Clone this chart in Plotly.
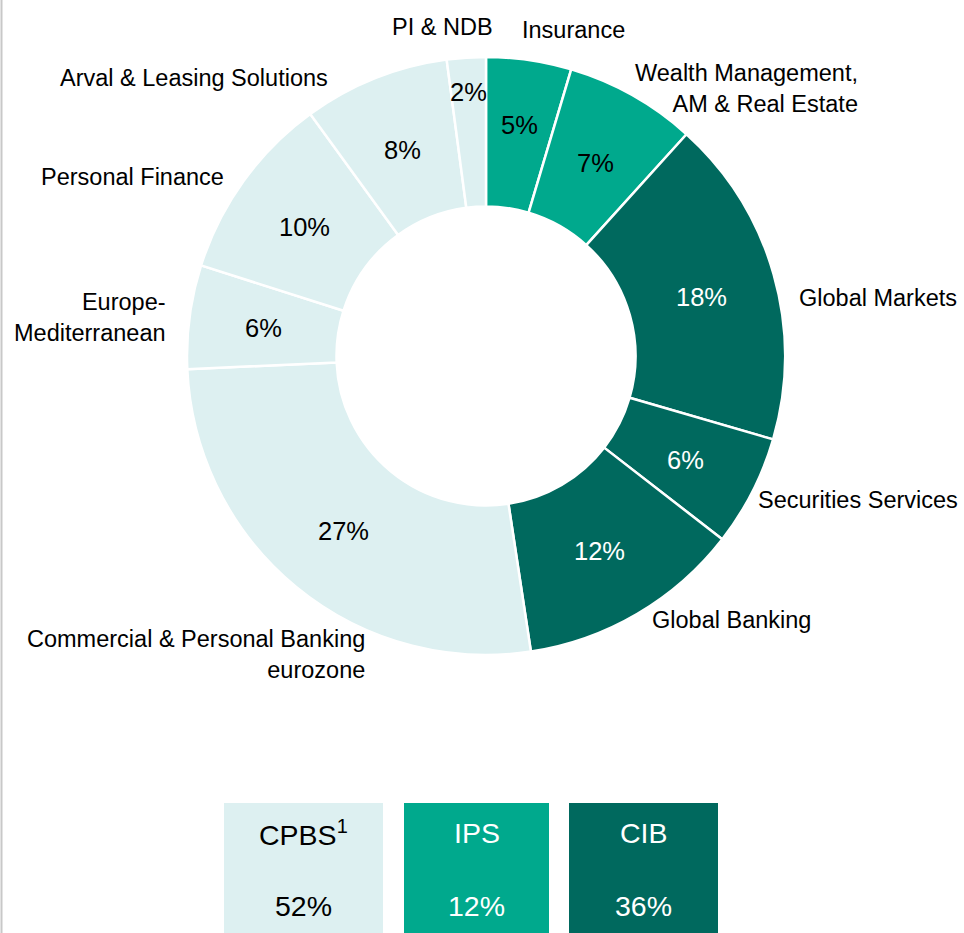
import math
import plotly.graph_objects as go

W, H = 964, 933

segments = ["Insurance", "Wealth Management,<br>AM & Real Estate", "Global Markets",
            "Securities Services", "Global Banking",
            "Commercial & Personal Banking<br>eurozone", "Europe-<br>Mediterranean",
            "Personal Finance", "Arval & Leasing Solutions", "PI & NDB"]
values = [4.6, 7.1, 17.8, 6.0, 12.1, 26.7, 5.6, 10.1, 7.9, 2.1]
groups = ["IPS", "IPS", "CIB", "CIB", "CIB", "CPBS", "CPBS", "CPBS", "CPBS", "CPBS"]

group_names = ["CPBS", "IPS", "CIB"]
group_titles = ["CPBS<sup>1</sup>", "IPS", "CIB"]
group_colors = {"CPBS": "#DDF0F1", "IPS": "#00A98D", "CIB": "#00695E"}
group_text = {"CPBS": "#000000", "IPS": "#000000", "CIB": "#FFFFFF"}
box_text = {"CPBS": "#000000", "IPS": "#FFFFFF", "CIB": "#FFFFFF"}

FONT = "Liberation Sans, Arial, sans-serif"


def px(x):
    return x / W


def py(y):
    return 1 - y / H


# donut geometry (pixels)
CX, CY, R_OUT, HOLE = 486, 356, 299, 0.5
R_TEXT = R_OUT * (1 + HOLE) / 2
text_radius_override = {"PI & NDB": 267, "Insurance": 235}

fig = go.Figure()
fig.add_trace(go.Pie(
    labels=segments,
    values=values,
    sort=False,
    direction="clockwise",
    rotation=0,
    hole=HOLE,
    marker=dict(colors=[group_colors[g] for g in groups],
                line=dict(color="#FFFFFF", width=2.5)),
    textinfo="none",
    domain=dict(x=[px(CX - R_OUT), px(CX + R_OUT)], y=[py(CY + R_OUT), py(CY - R_OUT)]),
    showlegend=False,
    hoverinfo="label+percent",
))

annotations = []

# percentage labels inside the ring
total_all = sum(values)
cum = 0.0
for name, v, g in zip(segments, values, groups):
    mid = (cum + v / 2) / total_all * 2 * math.pi
    cum += v
    r = text_radius_override.get(name, R_TEXT)
    x = CX + r * math.sin(mid)
    y = CY - r * math.cos(mid)
    annotations.append(dict(
        x=px(x), y=py(y), xref="paper", yref="paper", yshift=-2,
        text=f"{round(v / total_all * 100):d}%", showarrow=False,
        xanchor="center", yanchor="middle",
        font=dict(family=FONT, size=25.5, color=group_text[g]),
    ))

# outside category labels: (anchor x px, y px, xanchor)
label_pos = [
    (520, 30, "left"),
    (860, 88, "right"),
    (797, 298, "left"),
    (756, 500, "left"),
    (650, 620, "left"),
    (367, 654, "right"),
    (168, 317, "right"),
    (226, 177, "right"),
    (330, 78, "right"),
    (495, 27, "right"),
]
for name, (x, y, anc) in zip(segments, label_pos):
    annotations.append(dict(
        x=px(x), y=py(y), xref="paper", yref="paper", text=name,
        showarrow=False, xanchor=anc, yanchor="middle", align=anc,
        font=dict(family=FONT, size=23.5, color="#000000"),
    ))

# group summary boxes
box_x = [(224, 383), (404, 549), (569, 718)]
shapes = []
for g, title, (x0, x1) in zip(group_names, group_titles, box_x):
    total = sum(v for v, gg in zip(values, groups) if gg == g)
    shapes.append(dict(type="rect", xref="paper", yref="paper",
                       x0=px(x0), x1=px(x1), y0=-0.02, y1=py(803),
                       fillcolor=group_colors[g], line=dict(width=0), layer="below"))
    cx = px((x0 + x1) / 2)
    annotations.append(dict(x=cx, y=py(833), xref="paper", yref="paper", text=title,
                            showarrow=False, xanchor="center", yanchor="middle",
                            font=dict(family=FONT, size=28.5, color=box_text[g])))
    annotations.append(dict(x=cx, y=py(906), xref="paper", yref="paper",
                            text=f"{round(total):d}%",
                            showarrow=False, xanchor="center", yanchor="middle",
                            font=dict(family=FONT, size=28.5, color=box_text[g])))

# left border line
shapes.append(dict(type="line", xref="paper", yref="paper", x0=px(1.5), x1=px(1.5),
                   y0=0, y1=1, line=dict(color="#C8C8C8", width=2)))

fig.update_layout(
    width=W, height=H,
    margin=dict(l=0, r=0, t=0, b=0),
    paper_bgcolor="#FFFFFF",
    plot_bgcolor="#FFFFFF",
    annotations=annotations,
    shapes=shapes,
    font=dict(family=FONT),
)

fig.write_html("out.html",
               config={"displayModeBar": False},
               post_script="document.body.style.margin='0';"
                           "document.body.style.overflow='hidden';")
